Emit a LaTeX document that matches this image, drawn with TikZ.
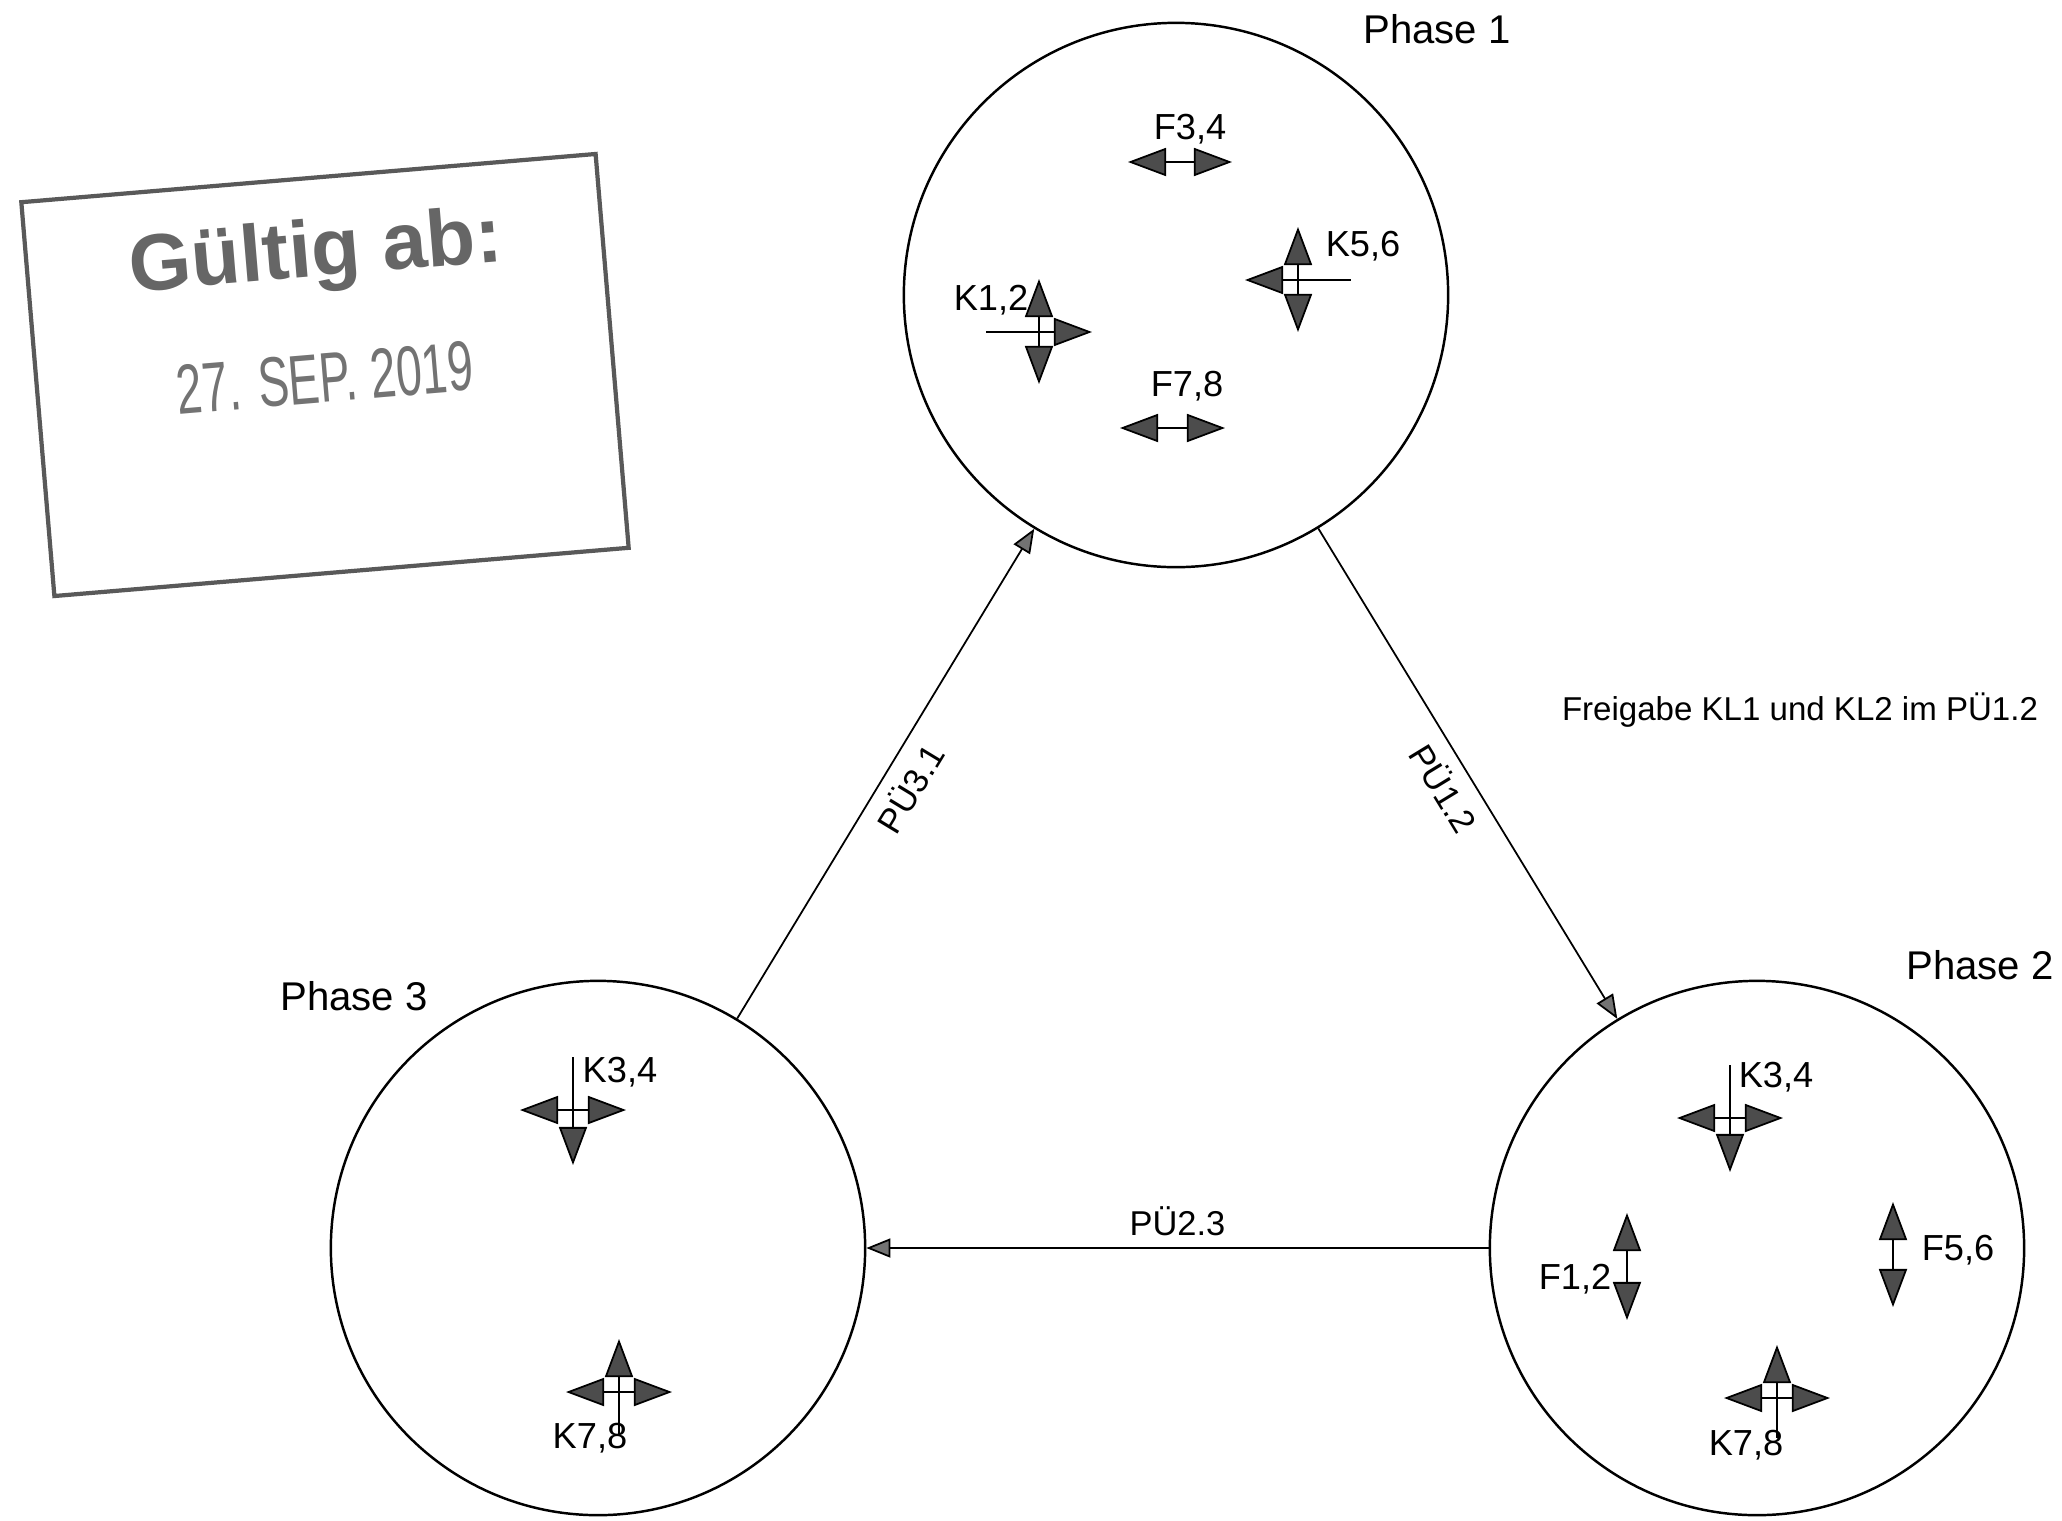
\documentclass[tikz,border=0pt]{standalone}
\usepackage{fontspec}
\setmainfont{Liberation Sans}
\usetikzlibrary{arrows.meta}
\begin{document}
\begin{tikzpicture}[x=0.01cm,y=-0.01cm,
		phase/.style={draw,circle,inner sep=0pt,line width=0.7pt},
		flow/.style={line width=0.5pt,-{Triangle[length=2.4mm,width=1.9mm,fill=black!55]}},
		headend/.style={line width=0.5pt,-{Triangle[length=3.8mm,width=2.8mm,fill=black!70]}},
		plainend/.style={line width=0.5pt},
		mv/.style={line width=0.5pt,{Triangle[length=3.8mm,width=2.8mm,fill=black!70]}-{Triangle[length=3.8mm,width=2.8mm,fill=black!70]}},
		lbl/.style={inner sep=0pt,font=\fontsize{10.3}{12}\selectfont},
		phlbl/.style={inner sep=0pt,font=\fontsize{11.4}{13}\selectfont},
		pue/.style={font=\fontsize{9.8}{11}\selectfont}]
	\useasboundingbox (0,0) rectangle (2062,1520);
	% stamp
	\node[draw=black!65,line width=1.2pt,rotate=4.8,minimum width=5.76cm,minimum height=3.95cm] (stempel) at (325,375) {};
	\node[rotate=4.8,text=black!60,font=\bfseries\fontsize{22.8}{26}\selectfont] (gueltig) at (316,256) {Gültig ab:};
	\node[rotate=4.8,xscale=0.66,text=black!55,font=\fontsize{20}{24}\selectfont] (datum) at (325,378) {27. SEP. 2019};
	% phases
	\node[phase,minimum size=5.44cm] (p1) at (1176,295) {};
	\node[phase,minimum size=5.34cm] (p2) at (1757,1248) {};
	\node[phase,minimum size=5.34cm] (p3) at (598,1248) {};
	\node[phlbl] (t1) at (1437,29) {Phase 1};
	\node[phlbl] (t2) at (1980,965) {Phase 2};
	\node[phlbl] (t3) at (354,996) {Phase 3};
	\draw[flow] (p3) -- node[below,sloped,pue] (pue31) {PÜ3.1} (p1);
	\draw[flow] (p1) -- node[below,sloped,pue] (pue12) {PÜ1.2} (p2);
	\draw[flow] (p2) -- node[above,pue] (pue23) {PÜ2.3} (p3);
	\node[font=\fontsize{9.4}{11}\selectfont] (frei) at (1800,710) {Freigabe KL1 und KL2 im PÜ1.2};
	% F: double arrows
	\draw[mv] (1128,162)--(1232,162);
	\draw[mv] (1120,428)--(1225,428);
	\draw[mv] (1627,1213)--(1627,1320);
	\draw[mv] (1893,1202)--(1893,1307);
	% K: crosses (up/down/left/right, length down)
	\foreach \cx/\cy/\u/\d/\l/\r/\dl in {1039/332/headend/headend/plainend/headend/52,
		1298/280/headend/headend/headend/plainend/52,
		1730/1118/plainend/headend/headend/headend/54,
		1777/1398/headend/plainend/headend/headend/40,
		573/1110/plainend/headend/headend/headend/55,
		619/1392/headend/plainend/headend/headend/43}{
		\draw[\u] (\cx,\cy)--++(0,-53);
		\draw[\d] (\cx,\cy)--++(0,\dl);
		\draw[\l] (\cx,\cy)--++(-53,0);
		\draw[\r] (\cx,\cy)--++(53,0);
	}
	\node[lbl] (f34) at (1190,129) {F3,4};
	\node[lbl] (f78) at (1187,386) {F7,8};
	\node[lbl] (k12) at (991,300) {K1,2};
	\node[lbl] (k56) at (1363,246) {K5,6};
	\node[lbl] (k34b) at (1776,1077) {K3,4};
	\node[lbl] (k78b) at (1746,1445) {K7,8};
	\node[lbl] (f12) at (1575,1279) {F1,2};
	\node[lbl] (f56) at (1958,1250) {F5,6};
	\node[lbl] (k34c) at (620,1072) {K3,4};
	\node[lbl] (k78c) at (590,1438) {K7,8};
\end{tikzpicture}
\end{document}
